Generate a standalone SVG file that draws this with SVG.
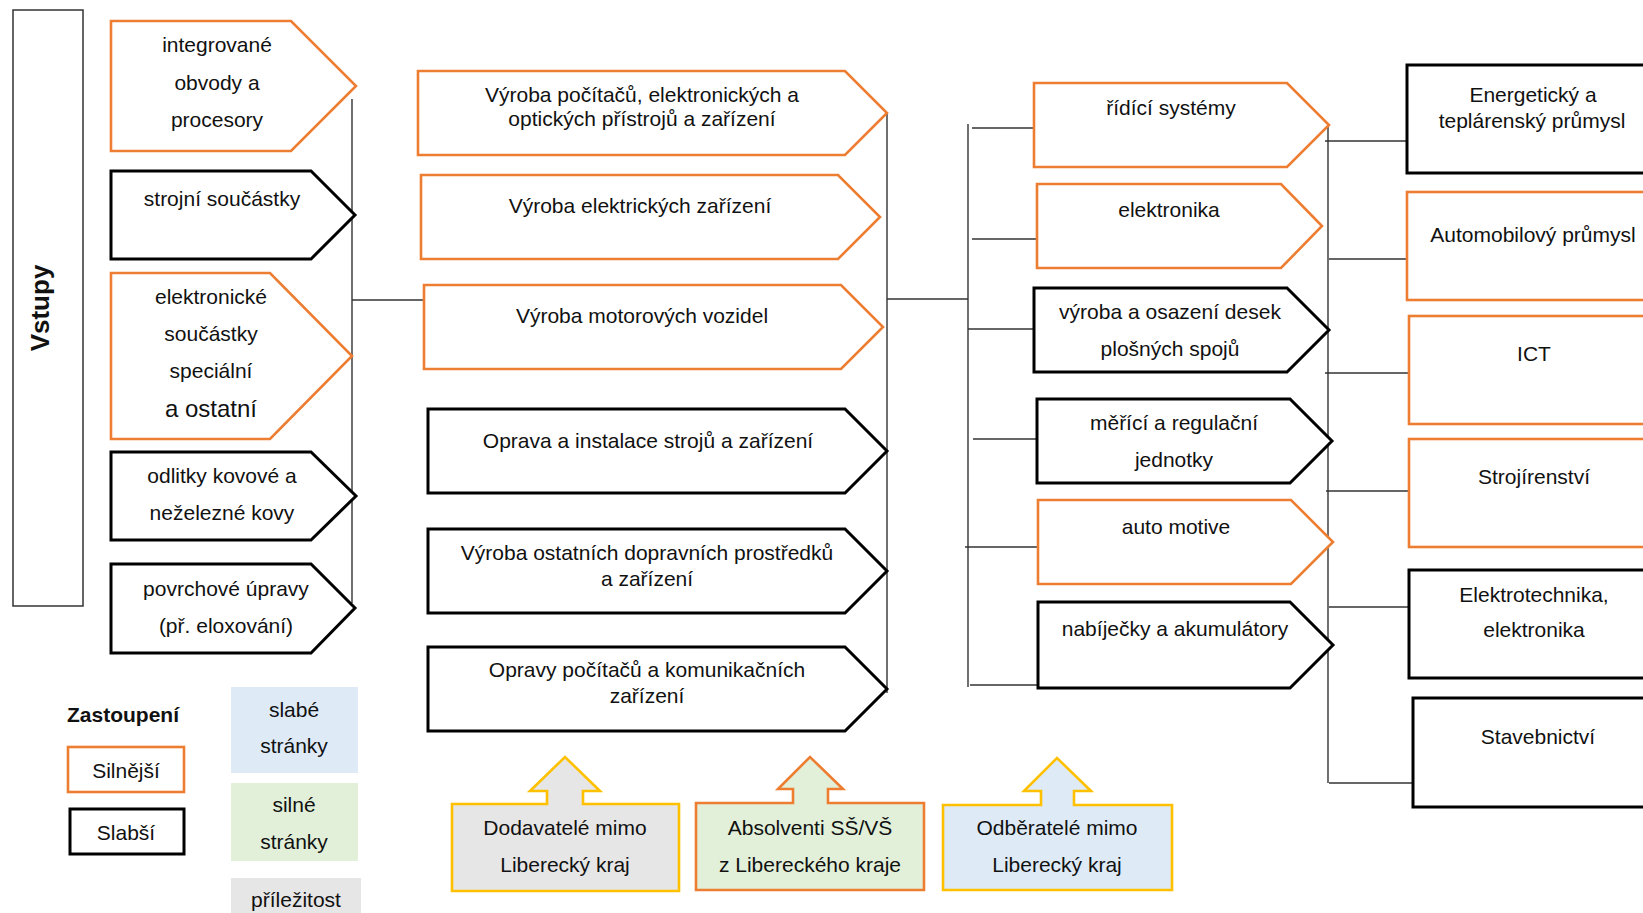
<svg xmlns="http://www.w3.org/2000/svg" width="1643" height="913" viewBox="0 0 1643 913">
  <style>
    .t { font-family: "Liberation Sans", Arial, sans-serif; font-size: 21px; fill: #111; text-anchor: middle; }
    .b { font-weight: bold; }
    .strong { fill: #fff; stroke: #ED7D31; stroke-width: 2.6; }
    .weak { fill: #fff; stroke: #000; stroke-width: 3; }
    .frame { fill: #fff; stroke: #333; stroke-width: 1.5; }
    .line { stroke: #333; stroke-width: 1.4; fill: none; }
    .bg-blue { fill: #DEEBF7; }
    .bg-green { fill: #E2F0D9; }
    .bg-grey { fill: #E7E6E6; }
    .gold { stroke: #FFC000; stroke-width: 2.6; }
    .orng { stroke: #ED7D31; stroke-width: 2.6; }
  </style>

  <rect width="1643" height="913" fill="#fff"/>

  <!-- connectors -->
  <g id="connectors">
    <line class="line" x1="352" y1="99" x2="352" y2="603"/>
    <line class="line" x1="352" y1="300" x2="424" y2="300"/>
    <line class="line" x1="887" y1="112" x2="887" y2="693"/>
    <line class="line" x1="887" y1="299" x2="968" y2="299"/>
    <line class="line" x1="968" y1="124" x2="968" y2="687"/>
    <line class="line" x1="972" y1="128" x2="1034" y2="128"/>
    <line class="line" x1="972" y1="239" x2="1037" y2="239"/>
    <line class="line" x1="968" y1="329" x2="1034" y2="329"/>
    <line class="line" x1="973" y1="439" x2="1037" y2="439"/>
    <line class="line" x1="965" y1="547" x2="1038" y2="547"/>
    <line class="line" x1="970" y1="685" x2="1050" y2="685"/>
    <line class="line" x1="1328" y1="124" x2="1328" y2="783"/>
    <line class="line" x1="1325" y1="141" x2="1407" y2="141"/>
    <line class="line" x1="1329" y1="259" x2="1407" y2="259"/>
    <line class="line" x1="1325" y1="373" x2="1409" y2="373"/>
    <line class="line" x1="1326" y1="491" x2="1409" y2="491"/>
    <line class="line" x1="1329" y1="607" x2="1409" y2="607"/>
    <line class="line" x1="1329" y1="783" x2="1413" y2="783"/>
  </g>

  <!-- inputs column -->
  <g id="vstupy">
    <rect class="frame" x="13" y="10" width="70" height="596"/>
    <text class="t b" style="font-size:26px" transform="translate(49,308) rotate(-90)">Vstupy</text>
  </g>

  <g id="in-integrovane">
    <polygon class="strong" points="111,21 291,21 356,86 291,151 111,151"/>
    <text class="t" x="217" y="52">integrované</text>
    <text class="t" x="217" y="90">obvody a</text>
    <text class="t" x="217" y="127">procesory</text>
  </g>
  <g id="in-strojni">
    <polygon class="weak" points="111,171 311,171 355,215 311,259 111,259"/>
    <text class="t" x="222" y="206">strojní součástky</text>
  </g>
  <g id="in-elektronicke">
    <polygon class="strong" points="111,273 270,273 352,356 270,439 111,439"/>
    <text class="t" x="211" y="304">elektronické</text>
    <text class="t" x="211" y="341">součástky</text>
    <text class="t" x="211" y="378">speciální</text>
    <text class="t" x="211" y="417" style="font-size:24px">a ostatní</text>
  </g>
  <g id="in-odlitky">
    <polygon class="weak" points="111,452 311,452 356,496 311,540 111,540"/>
    <text class="t" x="222" y="483">odlitky kovové a</text>
    <text class="t" x="222" y="520">neželezné kovy</text>
  </g>
  <g id="in-povrchove">
    <polygon class="weak" points="111,564 311,564 355,608 311,653 111,653"/>
    <text class="t" x="226" y="596">povrchové úpravy</text>
    <text class="t" x="226" y="633">(př. eloxování)</text>
  </g>

  <!-- branches -->
  <g id="nace-pocitace">
    <polygon class="strong" points="418,71 845,71 887,113 845,155 418,155"/>
    <text class="t" x="642" y="102">Výroba počítačů, elektronických a</text>
    <text class="t" x="642" y="126">optických přístrojů a zařízení</text>
  </g>
  <g id="nace-elektricke">
    <polygon class="strong" points="421,175 838,175 880,217 838,259 421,259"/>
    <text class="t" x="640" y="213">Výroba elektrických zařízení</text>
  </g>
  <g id="nace-motorova">
    <polygon class="strong" points="424,285 841,285 883,327 841,369 424,369"/>
    <text class="t" x="642" y="323">Výroba motorových vozidel</text>
  </g>
  <g id="nace-oprava">
    <polygon class="weak" points="428,409 845,409 887,451 845,493 428,493"/>
    <text class="t" x="648" y="448">Oprava a instalace strojů a zařízení</text>
  </g>
  <g id="nace-doprava">
    <polygon class="weak" points="428,529 845,529 887,571 845,613 428,613"/>
    <text class="t" x="647" y="560">Výroba ostatních dopravních prostředků</text>
    <text class="t" x="647" y="586">a zařízení</text>
  </g>
  <g id="nace-opravy-pc">
    <polygon class="weak" points="428,647 845,647 887,689 845,731 428,731"/>
    <text class="t" x="647" y="677">Opravy počítačů a komunikačních</text>
    <text class="t" x="647" y="703">zařízení</text>
  </g>

  <!-- products -->
  <g id="prod-ridici">
    <polygon class="strong" points="1034,83 1287,83 1329,125 1287,167 1034,167"/>
    <text class="t" x="1171" y="115">řídící systémy</text>
  </g>
  <g id="prod-elektronika">
    <polygon class="strong" points="1037,184 1281,184 1322,226 1281,268 1037,268"/>
    <text class="t" x="1169" y="217">elektronika</text>
  </g>
  <g id="prod-desky">
    <polygon class="weak" points="1034,288 1287,288 1329,330 1287,372 1034,372"/>
    <text class="t" x="1170" y="319">výroba a osazení desek</text>
    <text class="t" x="1170" y="356">plošných spojů</text>
  </g>
  <g id="prod-merici">
    <polygon class="weak" points="1037,399 1290,399 1332,441 1290,483 1037,483"/>
    <text class="t" x="1174" y="430">měřící a regulační</text>
    <text class="t" x="1174" y="467">jednotky</text>
  </g>
  <g id="prod-automotive">
    <polygon class="strong" points="1038,500 1291,500 1333,542 1291,584 1038,584"/>
    <text class="t" x="1176" y="534">auto motive</text>
  </g>
  <g id="prod-nabijecky">
    <polygon class="weak" points="1038,602 1290,602 1333,645 1290,688 1038,688"/>
    <text class="t" x="1175" y="636">nabíječky a akumulátory</text>
  </g>

  <!-- customer sectors -->
  <g id="sec-energetika">
    <rect class="weak" x="1407" y="65" width="260" height="108"/>
    <text class="t" x="1533" y="102">Energetický a</text>
    <text class="t" x="1532" y="128">teplárenský průmysl</text>
  </g>
  <g id="sec-automobil">
    <rect class="strong" x="1407" y="192" width="260" height="108"/>
    <text class="t" x="1533" y="242">Automobilový průmysl</text>
  </g>
  <g id="sec-ict">
    <rect class="strong" x="1409" y="316" width="260" height="108"/>
    <text class="t" x="1534" y="361">ICT</text>
  </g>
  <g id="sec-strojirenstvi">
    <rect class="strong" x="1409" y="439" width="260" height="108"/>
    <text class="t" x="1534" y="484">Strojírenství</text>
  </g>
  <g id="sec-elektrotechnika">
    <rect class="weak" x="1409" y="570" width="260" height="108"/>
    <text class="t" x="1534" y="602">Elektrotechnika,</text>
    <text class="t" x="1534" y="637">elektronika</text>
  </g>
  <g id="sec-stavebnictvi">
    <rect class="weak" x="1413" y="698" width="260" height="109"/>
    <text class="t" x="1538" y="744">Stavebnictví</text>
  </g>

  <!-- legend -->
  <g id="legend">
    <text class="t b" x="123" y="722">Zastoupení</text>
    <rect class="strong" x="68" y="747" width="116" height="45"/>
    <text class="t" x="126" y="778">Silnější</text>
    <rect class="weak" x="70" y="809" width="114" height="45"/>
    <text class="t" x="126" y="840">Slabší</text>
    <rect class="bg-blue" x="231" y="687" width="127" height="86"/>
    <text class="t" x="294" y="717">slabé</text>
    <text class="t" x="294" y="753">stránky</text>
    <rect class="bg-green" x="231" y="783" width="127" height="78"/>
    <text class="t" x="294" y="812">silné</text>
    <text class="t" x="294" y="849">stránky</text>
    <rect class="bg-grey" x="231" y="878" width="130" height="45"/>
    <text class="t" x="296" y="907">příležitost</text>
  </g>

  <!-- external callouts -->
  <g id="ext-dodavatele">
    <path class="bg-grey gold" d="M452,804 H547 V791 H530 L565,757 L600,791 H583 V804 H679 V891 H452 Z"/>
    <text class="t" x="565" y="835">Dodavatelé mimo</text>
    <text class="t" x="565" y="872">Liberecký kraj</text>
  </g>
  <g id="ext-absolventi">
    <path class="bg-green orng" d="M696,803 H793 V789 H778 L810,757 L843,789 H828 V803 H924 V890 H696 Z"/>
    <text class="t" x="810" y="835">Absolventi SŠ/VŠ</text>
    <text class="t" x="810" y="872">z Libereckého kraje</text>
  </g>
  <g id="ext-odberatele">
    <path class="bg-blue gold" d="M943,805 H1041 V791 H1024 L1057,758 L1091,791 H1074 V805 H1172 V890 H943 Z"/>
    <text class="t" x="1057" y="835">Odběratelé mimo</text>
    <text class="t" x="1057" y="872">Liberecký kraj</text>
  </g>
</svg>
